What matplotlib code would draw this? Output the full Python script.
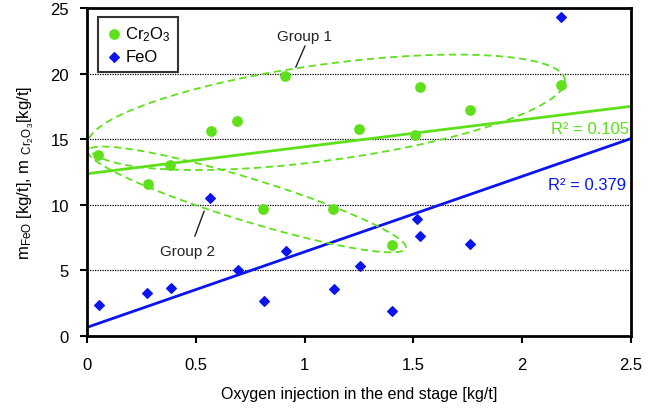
import numpy as np
import matplotlib
matplotlib.use("Agg")
import matplotlib.pyplot as plt

plt.rcParams['font.family'] = ['Liberation Sans', 'DejaVu Sans']
plt.rcParams['mathtext.fontset'] = 'custom'
plt.rcParams['mathtext.rm'] = 'Liberation Sans'
plt.rcParams['mathtext.it'] = 'Liberation Sans'

GREEN = '#5EE01A'
BLUE = '#0A14F0'

# oxygen injection in the end stage [kg/t]
x_cr = [0.05, 0.28, 0.38, 0.57, 0.69, 0.81, 0.91, 1.13, 1.25, 1.40, 1.51, 1.53, 1.76, 2.18]
m_cr = [13.8, 11.6, 13.0, 15.6, 16.4, 9.65, 19.8, 9.7, 15.8, 6.9, 15.3, 19.0, 17.2, 19.1]

x_fe = [0.055, 0.275, 0.385, 0.567, 0.694, 0.815, 0.914, 1.134, 1.256, 1.40, 1.518, 1.533, 1.761, 2.18]
m_fe = [2.4, 3.3, 3.65, 10.5, 5.0, 2.65, 6.5, 3.55, 5.3, 1.9, 8.95, 7.6, 7.0, 24.3]

r2_cr = 'R² = 0.105'
r2_fe = 'R² = 0.379'

# group outlines: centre, half extents in x and y, phase (deg)
group1 = dict(cx=1.10, cy=17.05, ax=1.097, ay=4.4, phase=57)
group2 = dict(cx=0.735, cy=10.41, ax=0.731, ay=4.03, phase=155)


def outline(cx, cy, ax, ay, phase):
    t = np.linspace(0, 2 * np.pi, 400)
    return cx + ax * np.cos(t), cy + ay * np.cos(t - np.radians(phase))


fig = plt.figure(figsize=(6.69, 4.10), dpi=100)
ax = fig.add_axes([0.130, 0.178, 0.813, 0.800])

ax.set_xlim(0, 2.5)
ax.set_ylim(0, 25)
for y in [5, 10, 15, 20]:
    ax.axhline(y, color='black', lw=0.9, ls=(0, (1, 1)), zorder=1)

# linear trend lines
xs = np.array([0, 2.5])
k_cr = np.polyfit(x_cr, m_cr, 1)
k_fe = np.polyfit(x_fe, m_fe, 1)
ax.plot(xs, np.polyval(k_cr, xs), color=GREEN, lw=2, zorder=2)
ax.plot(xs, np.polyval(k_fe, xs), color=BLUE, lw=2, zorder=2)

ax.scatter(x_cr, m_cr, s=45, color=GREEN, marker='o', label='Cr$_2$O$_3$', zorder=3)
ax.scatter(x_fe, m_fe, s=24, color=BLUE, marker='D', label='FeO', zorder=3)

for g in (group1, group2):
    ex, ey = outline(**g)
    ax.plot(ex, ey, color=GREEN, lw=1.3, ls=(0, (4, 2.5)), zorder=2)

ax.text(1.0, 22.9, 'Group 1', ha='center', va='center', fontsize=11, color='#222222')
ax.plot([1.002, 0.96], [22.1, 20.5], color='#222222', lw=1)
ax.text(0.464, 6.5, 'Group 2', ha='center', va='center', fontsize=11, color='#222222')
ax.plot([0.496, 0.538], [7.62, 9.5], color='#222222', lw=1)

ax.text(2.492, 15.8, r2_cr, ha='right', va='center', fontsize=12, color=GREEN)
ax.text(2.478, 11.55, r2_fe, ha='right', va='center', fontsize=12, color=BLUE)

ax.set_xticks([0, 0.5, 1, 1.5, 2, 2.5])
ax.set_xticklabels(['0', '0.5', '1', '1.5', '2', '2.5'])
ax.set_yticks([0, 5, 10, 15, 20, 25])
ax.tick_params(direction='out', length=5, width=1.5, labelsize=12, pad=8)
ax.tick_params(axis='x', pad=10)
for sp in ax.spines.values():
    sp.set_linewidth(2)
    sp.set_color('black')

ax.set_xlabel('Oxygen injection in the end stage [kg/t]', fontsize=11.5, labelpad=10)
ax.set_ylabel(r'm$_{\mathrm{FeO}}$ [kg/t], m $_{\mathrm{Cr_2O_3}}$[kg/t]', fontsize=12, labelpad=10)

leg = ax.legend(loc='upper left', bbox_to_anchor=(0.02, 0.972), fontsize=12,
                frameon=True, fancybox=False, handletextpad=0.2, borderpad=0.45,
                labelspacing=0.35, handlelength=1.0, borderaxespad=0)
leg.get_frame().set_edgecolor('black')
leg.get_frame().set_linewidth(1.5)

fig.savefig('out.png', dpi=100)
